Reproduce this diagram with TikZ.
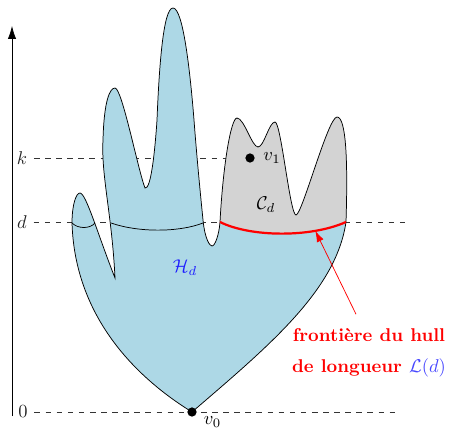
\documentclass[tikz,border=0pt]{standalone}
\usepackage{tikz}
\usetikzlibrary{arrows.meta, positioning, calc}
\usepackage{amsmath, amssymb}
\definecolor{lightblue1}{RGB}{173, 216, 230}
\definecolor{gray1}{RGB}{211, 211, 211}
\definecolor{blue1}{RGB}{30, 30, 255}
\definecolor{blue2}{RGB}{70, 70, 255}
\definecolor{red1}{RGB}{255, 0, 0}

\tikzset{
  levelline/.style={dashed, black!80},
  levellabel/.style={inner sep=3.5pt, text=black!85},
  dot/.style={circle, fill=black, inner sep=0pt, minimum size=5pt}
}

% outline of the whole region (H_d and C_d together)
\newcommand{\handshape}{(192,412) .. controls (140,380) and (75,320) .. (72,223)
  .. controls (72,205) and (76,193) .. (80,193)
  .. controls (86,193) and (98,235) .. (115,278)
  .. controls (112,215) and (101,175) .. (103,140)
  .. controls (104,100) and (110,88) .. (115,88)
  .. controls (122,88) and (138,170) .. (145,188)
  .. controls (151,190) and (155,150) .. (157,120)
  .. controls (159,70) and (163,8) .. (173,8)
  .. controls (183,8) and (190,70) .. (194,120)
  .. controls (197,160) and (201,200) .. (203,220)
  .. controls (205,240) and (210,246) .. (212,246)
  .. controls (215,246) and (219,235) .. (220,222)
  .. controls (223,165) and (231,118) .. (237,118)
  .. controls (244,118) and (252,147) .. (258,147)
  .. controls (264,147) and (269,122) .. (275,122)
  .. controls (281,122) and (290,215) .. (296,215)
  .. controls (302,215) and (328,117) .. (337,117)
  .. controls (346,117) and (348,160) .. (346,222)
  .. controls (336,290) and (270,345) .. (192,412) -- cycle}

\begin{document}
\begin{tikzpicture}[x=0.019cm, y=-0.019cm]
  \useasboundingbox (0,0) rectangle (449,430);

  \coordinate (axbot) at (12,416);
  \coordinate (axtop) at (12,26);
  \draw[-{Latex[length=7pt, width=4.5pt]}] (axbot) -- (axtop);

  \coordinate (v1pt) at (250,158);
  \coordinate (v0pt) at (192,412);
  \coordinate (dend) at (405,222);
  \coordinate (zend) at (400,412);
  \node[levellabel] (klab) at (22,158) {$k$};
  \node[levellabel] (dlab) at (22,222) {$d$};
  \node[levellabel] (zlab) at (23,412) {$0$};
  \draw[levelline] (klab) -- (v1pt);
  \draw[levelline] (dlab) -- (dend);
  \draw[levelline] (zlab) -- (zend);

  \fill[lightblue1] \handshape;
  \begin{scope}
    \clip \handshape;
    \fill[gray1] (215,0) -- (220,222) .. controls (250,237) and (310,238) .. (346,222)
      -- (360,222) -- (360,0) -- cycle;
  \end{scope}
  \draw \handshape;

  \draw (72,223) .. controls (78,229) and (90,229) .. (95,223);
  \draw (111,223) .. controls (140,233) and (180,232) .. (203,223);
  \draw[red1, line width=1.2pt] (220,222) .. controls (250,237) and (310,238) .. (346,222)
    coordinate[pos=0.75] (hullpt);

  \node[dot] (v1) at (v1pt) {};
  \node[dot] (v0) at (v0pt) {};
  \node[right=1pt of v1] (v1lab) {$v_1$};
  \node[below right=-3pt and 1pt of v0] (v0lab) {$v_0$};

  \node[text=blue1] (Hlab) at (185,268) {$\mathcal{H}_d$};
  \node (Clab) at (266,205) {$\mathcal{C}_d$};

  \node[text=red1, font=\bfseries, align=center, inner sep=1pt] (hulltext) at (369,353)
    {frontière du hull\\[5pt] de longueur {\color{blue2}$\mathcal{L}(d)$}};
  \draw[red1, -{Latex[length=6pt, width=4pt]}] ($(hulltext.north)+(-13,-12)$) -- (hullpt);
\end{tikzpicture}
\end{document}
